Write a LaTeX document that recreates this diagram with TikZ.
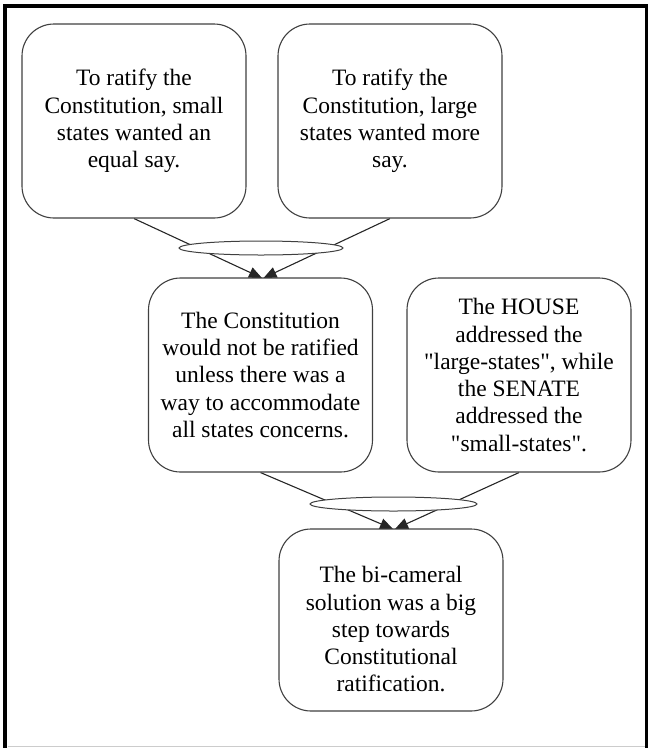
\documentclass[tikz,border=0pt]{standalone}
\usepackage{fontspec}
\setmainfont{Liberation Serif}[Ligatures=TeXOff]
\usetikzlibrary{arrows.meta,shapes.geometric}
\pgfdeclarelayer{background}
\pgfsetlayers{background,main}
\begin{document}
\begin{tikzpicture}[x=1pt,y=-1pt,
  box/.style={draw=black!75, line width=1.1pt, fill=white, rounded corners=32pt,
    minimum width=224pt, minimum height=194pt, inner sep=0pt, align=center,
    font=\fontsize{23.5}{27.3}\selectfont},
  junction/.style={ellipse, draw=black!75, line width=1pt, fill=white,
    minimum height=14pt, inner sep=0pt},
  link/.style={draw=black!85, line width=1.1pt, -{Triangle[length=13pt,width=11pt]}},
  frame/.style={draw=black, line width=3.8pt}]
\useasboundingbox (0,0) rectangle (648,748);

% outer frame
\draw[frame] (5.3,748) -- (5.3,5.6) -- (646.4,5.6) -- (646.4,748);
\draw[black!20, line width=1pt] (7.5,746.8) -- (644.5,746.8);

% statement boxes
\node[box] (b1) at (134,121) {To ratify the\\Constitution, small\\states wanted an\\equal say.};
\node[box] (b2) at (390,121) {To ratify the\\Constitution, large\\states wanted more\\say.};
\node[box] (b3) at (260.5,375) {The Constitution\\would not be ratified\\unless there was a\\way to accommodate\\all states concerns.};
\node[box] (b4) at (519,375) {The HOUSE\\addressed the\\"large-states", while\\the SENATE\\addressed the\\"small-states".};
% the strut pushes this text block a little below the box centre
\node[box, minimum height=182pt] (b5) at (391,620) {\rule{0pt}{35pt}The bi-cameral\\solution was a big\\step towards\\Constitutional\\ratification.};

% junction ellipses
\node[junction, minimum width=164pt] (j1) at (261,248) {};
\node[junction, minimum width=167pt] (j2) at (393.5,504) {};

% arrow ends on the receiving boxes
\coordinate (e1a) at (262,278);
\coordinate (e1b) at (263.5,278);
\coordinate (e2a) at (393,529);
\coordinate (e2b) at (395,529);

% connectors run behind the ellipses and boxes
\begin{pgfonlayer}{background}
  \draw[link] (b1.south) -- (e1a);
  \draw[link] (b2.south) -- (e1b);
  \draw[link] (b3.south) -- (e2a);
  \draw[link] (b4.south) -- (e2b);
\end{pgfonlayer}
\end{tikzpicture}
\end{document}
